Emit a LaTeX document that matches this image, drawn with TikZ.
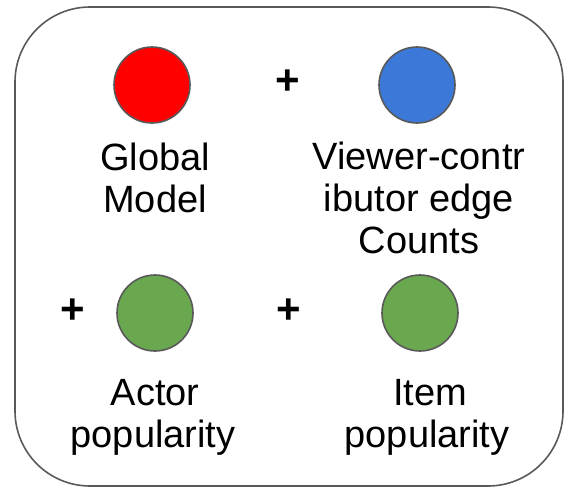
\documentclass[tikz,border=0pt]{standalone}
\usepackage{fontspec}
\setmainfont{Liberation Sans}
\definecolor{gred}{HTML}{FF0000}
\definecolor{gblue}{HTML}{3C78D8}
\definecolor{ggreen}{HTML}{6AA84F}
\definecolor{edgegray}{HTML}{595959}
\tikzset{
  frame/.style={draw=edgegray, line width=1.6pt, rounded corners=75pt},
  dot/.style={circle, draw=edgegray, line width=1.6pt, minimum size=76pt, inner sep=0pt},
  lbl/.style={anchor=base, inner sep=0pt, font=\fontsize{38}{42}\selectfont},
  plus/.style={inner sep=0pt, font=\fontsize{42}{46}\selectfont\bfseries}
}
\begin{document}
\begin{tikzpicture}[x=1pt,y=-1pt]
\useasboundingbox (0,0) rectangle (578,490);
\draw[frame] (15,7) rectangle (563,486);
\node[dot, fill=gred] (red) at (152,85) {};
\node[dot, fill=gblue] (blue) at (417,85) {};
\node[dot, fill=ggreen] (actor) at (155,313) {};
\node[dot, fill=ggreen] (item) at (420,313) {};
\node[plus] (p1) at (288,82) {+};
\node[plus] (p2) at (73,311) {+};
\node[plus] (p3) at (289,311) {+};
\node[lbl] (g1) at (155,170) {Global};
\node[lbl] (g2) at (155,212) {Model};
\node[lbl] (v1) at (419,169) {Viewer-contr};
\node[lbl] (v2) at (419,211) {ibutor edge};
\node[lbl] (v3) at (419,253) {Counts};
\node[lbl] (a1) at (155,405) {Actor};
\node[lbl] (a2) at (153,447) {popularity};
\node[lbl] (i1) at (430,405) {Item};
\node[lbl] (i2) at (427,447) {popularity};
\end{tikzpicture}
\end{document}
